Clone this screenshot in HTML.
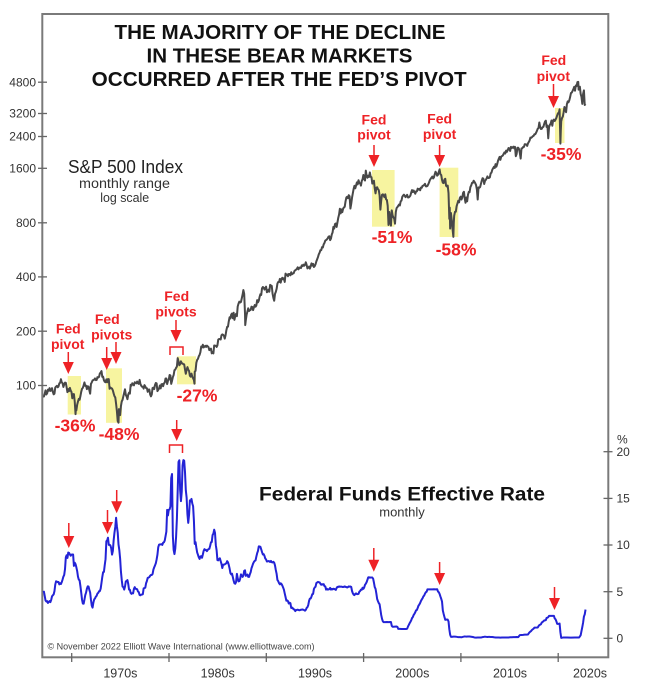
<!DOCTYPE html>
<html><head><meta charset="utf-8">
<style>html,body{margin:0;padding:0;background:#fff}svg{display:block}</style>
</head><body>
<svg width="650" height="693" viewBox="0 0 650 693" xmlns="http://www.w3.org/2000/svg" font-family="'Liberation Sans', Arial, sans-serif">
<rect width="650" height="693" fill="#fff"/>

<!-- yellow highlight boxes -->
<g fill="#f7f4a0">
<rect x="67.7" y="376" width="13.3" height="38.5"/>
<rect x="106" y="368.3" width="16" height="54.5"/>
<rect x="177" y="356.3" width="19" height="28"/>
<rect x="372" y="170" width="22.6" height="56.7"/>
<rect x="439.6" y="167.7" width="18.7" height="69.3"/>
<rect x="555" y="108" width="9.5" height="35"/>
</g>

<!-- frame -->
<rect x="42.3" y="14" width="566" height="643.3" fill="none" stroke="#7a7a7a" stroke-width="2"/>

<!-- left ticks -->
<g stroke="#666" stroke-width="1.3">
<line x1="38" y1="82.2" x2="47" y2="82.2"/>
<line x1="38" y1="113.5" x2="47" y2="113.5"/>
<line x1="38" y1="136.5" x2="47" y2="136.5"/>
<line x1="38" y1="168.3" x2="47" y2="168.3"/>
<line x1="38" y1="222.8" x2="47" y2="222.8"/>
<line x1="38" y1="276.9" x2="47" y2="276.9"/>
<line x1="38" y1="331.2" x2="47" y2="331.2"/>
<line x1="38" y1="385.5" x2="47" y2="385.5"/>
<!-- right ticks -->
<line x1="603.5" y1="451.7" x2="612.5" y2="451.7"/>
<line x1="603.5" y1="498.4" x2="612.5" y2="498.4"/>
<line x1="603.5" y1="545" x2="612.5" y2="545"/>
<line x1="603.5" y1="591.7" x2="612.5" y2="591.7"/>
<line x1="603.5" y1="638.3" x2="612.5" y2="638.3"/>
<!-- bottom ticks -->
<line x1="71.7" y1="653" x2="71.7" y2="662"/>
<line x1="169" y1="653" x2="169" y2="662"/>
<line x1="266.3" y1="653" x2="266.3" y2="662"/>
<line x1="363.6" y1="653" x2="363.6" y2="662"/>
<line x1="460.9" y1="653" x2="460.9" y2="662"/>
<line x1="558.2" y1="653" x2="558.2" y2="662"/>
</g>

<!-- left tick labels -->
<g font-size="12" fill="#333" text-anchor="end">
<text x="36" y="86.4">4800</text>
<text x="36" y="117.7">3200</text>
<text x="36" y="140.7">2400</text>
<text x="36" y="172.5">1600</text>
<text x="36" y="227">800</text>
<text x="36" y="281.1">400</text>
<text x="36" y="335.4">200</text>
<text x="36" y="389.7">100</text>
</g>
<!-- right tick labels -->
<g font-size="12" fill="#333">
<text x="617" y="443.5">%</text>
<text x="616.5" y="456">20</text>
<text x="616.5" y="502.6">15</text>
<text x="616.5" y="549.2">10</text>
<text x="616.5" y="595.9">5</text>
<text x="616.5" y="642.5">0</text>
</g>
<!-- decade labels -->
<g font-size="12.5" fill="#333" text-anchor="middle">
<text x="120.4" y="677.5">1970s</text>
<text x="217.7" y="677.5">1980s</text>
<text x="315" y="677.5">1990s</text>
<text x="412.3" y="677.5">2000s</text>
<text x="510" y="677.5">2010s</text>
<text x="590" y="677.5">2020s</text>
</g>

<!-- title -->
<g font-weight="bold" font-size="20.5" fill="#111" text-anchor="middle">
<text x="280" y="39" textLength="331" lengthAdjust="spacingAndGlyphs">THE MAJORITY OF THE DECLINE</text>
<text x="279.5" y="62.5" textLength="266" lengthAdjust="spacingAndGlyphs">IN THESE BEAR MARKETS</text>
<text x="279.2" y="86" textLength="375" lengthAdjust="spacingAndGlyphs">OCCURRED AFTER THE FED’S PIVOT</text>
</g>

<!-- S&P label -->
<text x="125.5" y="173" font-size="18.5" fill="#222" text-anchor="middle" textLength="115" lengthAdjust="spacingAndGlyphs">S&amp;P 500 Index</text>
<text x="124.5" y="188" font-size="13.5" fill="#333" text-anchor="middle" textLength="91" lengthAdjust="spacingAndGlyphs">monthly range</text>
<text x="124.7" y="202" font-size="13" fill="#333" text-anchor="middle" textLength="49" lengthAdjust="spacingAndGlyphs">log scale</text>

<!-- Fed funds label -->
<text x="402" y="500.5" font-size="19" font-weight="bold" fill="#111" text-anchor="middle" textLength="286" lengthAdjust="spacingAndGlyphs">Federal Funds Effective Rate</text>
<text x="402" y="516.5" font-size="13" fill="#333" text-anchor="middle">monthly</text>

<!-- copyright -->
<text x="47.5" y="649.5" font-size="9" fill="#444" textLength="267" lengthAdjust="spacingAndGlyphs">© November 2022 Elliott Wave International (www.elliottwave.com)</text>

<!-- S&P 500 line -->
<polyline fill="none" stroke="#484848" stroke-width="2" stroke-linejoin="round" vector-effect="non-scaling-stroke" transform="matrix(0.8108 0 0 -180.4 72.3 746.3)" points="-36,1.938 -35,1.939 -34,1.955 -33,1.973 -32,1.950 -31,1.957 -30,1.977 -29,1.971 -28,1.985 -27,1.970 -26,1.973 -25,1.985 -24,1.965 -23,1.951 -22,1.955 -21,1.989 -20,1.994 -19,1.998 -18,1.990 -17,1.995 -16,2.012 -15,2.015 -14,2.035 -13,2.017 -12,2.013 -11,1.992 -10,2.006 -9,2.016 -8,2.015 -7,1.990 -6,1.963 -5,1.980 -4,1.969 -3,1.987 -2,1.972 -1,1.964 0,1.929 1,1.952 2,1.952 3,1.911 4,1.841 4.5,1.884 5,1.862 6,1.893 7,1.911 8,1.926 9,1.921 10,1.941 11,1.965 12,1.982 13,1.987 14,2.001 15,2.017 16,1.998 17,1.999 18,1.980 19,1.996 20,1.993 21,1.974 22,1.955 23,2.009 24,2.017 25,2.028 26,2.030 27,2.032 28,2.039 29,2.030 30,2.031 31,2.046 32,2.044 33,2.048 34,2.067 35,2.072 36,2.080 37,2.048 38,2.049 39,2.029 40,2.021 41,2.018 42,2.034 43,2.018 44,2.035 45,2.035 46,1.982 47,1.989 48,1.985 49,1.983 50,1.973 51,1.956 52,1.941 53,1.934 54,1.899 55,1.858 56,1.803 57,1.794 57.5,1.869 58,1.845 59,1.836 60,1.886 61,1.912 62,1.921 63,1.941 64,1.960 65,1.979 66,1.948 67,1.939 68,1.924 69,1.950 70,1.960 71,1.955 72,2.004 73,1.999 74,2.012 75,2.007 76,2.001 77,2.018 78,2.015 79,2.012 80,2.022 81,2.012 82,2.009 83,2.031 84,2.009 85,1.999 86,1.993 87,1.993 88,1.983 89,2.002 90,1.995 91,1.986 92,1.985 93,1.965 94,1.977 95,1.978 96,1.951 97,1.940 98,1.950 99,1.986 100,1.988 101,1.980 102,2.003 103,2.014 104,2.011 105,1.969 106,1.976 107,1.983 108,2.000 109,1.984 110,2.007 111,2.008 112,1.996 113,2.012 114,2.016 115,2.039 116,2.039 117,2.008 118,2.026 119,2.033 120,2.058 121,2.056 122,2.009 123,2.026 124,2.046 125,2.058 126,2.085 127,2.088 128,2.098 129,2.105 130,2.152 131,2.133 132,2.112 133,2.118 134,2.134 135,2.123 136,2.122 137,2.118 138,2.117 139,2.089 140,2.065 141,2.086 142,2.102 143,2.088 144,2.081 145,2.054 146,2.049 147,2.066 148,2.049 149,2.040 150,2.030 150.7,2.010 151,2.077 152,2.081 153,2.126 154,2.142 155,2.148 156,2.162 157,2.170 158,2.185 159,2.216 160,2.211 161,2.226 162,2.211 163,2.216 164,2.220 165,2.214 166,2.221 167,2.217 168,2.213 169,2.196 170,2.202 171,2.204 172,2.178 173,2.185 174,2.178 175,2.222 176,2.220 177,2.220 178,2.214 179,2.223 180,2.254 181,2.258 182,2.257 183,2.255 184,2.278 185,2.283 186,2.281 187,2.276 188,2.260 189,2.278 190,2.306 191,2.325 192,2.326 193,2.356 194,2.378 195,2.372 196,2.393 197,2.399 198,2.373 199,2.403 200,2.364 201,2.387 202,2.397 203,2.384 204,2.438 205,2.454 206,2.465 207,2.460 208,2.463 209,2.483 210,2.503 211,2.529 212,2.508 213,2.401 213.3,2.335 214,2.362 215,2.393 216,2.410 217,2.428 218,2.413 219,2.417 220,2.419 221,2.437 222,2.435 223,2.418 224,2.434 225,2.446 226,2.437 227,2.444 228,2.473 229,2.461 230,2.470 231,2.491 232,2.506 233,2.502 234,2.539 235,2.546 236,2.543 237,2.532 238,2.539 239,2.548 240,2.517 241,2.521 242,2.531 243,2.520 244,2.558 245,2.554 246,2.552 247,2.509 248,2.486 249,2.470 250,2.508 251,2.519 252,2.536 253,2.565 254,2.574 255,2.574 256,2.591 257,2.570 258,2.589 259,2.597 260,2.589 261,2.594 262,2.574 263,2.620 264,2.611 265,2.616 266,2.606 267,2.618 268,2.618 269,2.611 270,2.628 271,2.617 272,2.621 273,2.622 274,2.635 275,2.639 276,2.642 277,2.647 278,2.655 279,2.644 280,2.653 281,2.654 282,2.651 283,2.666 284,2.662 285,2.670 286,2.664 287,2.669 288,2.683 289,2.669 290,2.649 291,2.654 292,2.659 293,2.648 294,2.661 295,2.677 296,2.665 297,2.674 298,2.657 299,2.662 300,2.672 301,2.688 302,2.700 303,2.712 304,2.727 305,2.736 306,2.750 307,2.750 308,2.767 309,2.765 310,2.782 311,2.790 312,2.803 313,2.806 314,2.810 315,2.816 316,2.825 317,2.827 318,2.806 319,2.814 320,2.837 321,2.848 322,2.879 323,2.870 324,2.895 325,2.898 326,2.879 327,2.904 328,2.929 329,2.947 330,2.980 331,2.954 332,2.976 333,2.961 334,2.980 335,2.987 336,2.991 337,3.021 338,3.042 339,3.046 340,3.038 341,3.055 342,3.049 343,2.981 344,3.007 345,3.041 346,3.066 347,3.090 348,3.107 349,3.093 350,3.109 351,3.126 352,3.115 353,3.138 354,3.123 355,3.121 356,3.108 357,3.134 358,3.143 359,3.167 360,3.144 361,3.136 362,3.191 363,3.162 364,3.152 365,3.163 366,3.156 367,3.181 368,3.157 369,3.155 370,3.119 371,3.121 372,3.135 373,3.093 374,3.065 375,3.097 376,3.099 377,3.088 378,3.083 379,3.054 380,2.975 381,3.025 382,3.057 383,3.060 384,3.053 385,3.044 386,3.060 387,3.032 388,3.028 389,2.996 390,2.890 391,2.962 392,2.911 393,2.886 394,2.971 395,2.944 396,2.932 397,2.925 398,2.897 399,2.962 400,2.984 401,2.989 402,2.996 403,3.003 404,2.998 405,3.021 406,3.025 407,3.046 408,3.053 409,3.058 410,3.052 411,3.044 412,3.050 413,3.057 414,3.042 415,3.043 416,3.047 417,3.053 418,3.070 419,3.083 420,3.072 421,3.081 422,3.072 423,3.063 424,3.076 425,3.076 426,3.091 427,3.086 428,3.090 429,3.082 430,3.097 431,3.096 432,3.107 433,3.108 434,3.112 435,3.118 436,3.104 437,3.104 438,3.106 439,3.115 440,3.126 441,3.139 442,3.146 443,3.152 444,3.158 445,3.148 446,3.153 447,3.171 448,3.185 449,3.177 450,3.163 451,3.168 452,3.184 453,3.198 454,3.171 455,3.167 456,3.140 457,3.124 458,3.122 459,3.142 460,3.146 461,3.107 462,3.103 463,3.108 464,3.067 465,2.924 465.5,2.986 466,2.870 467,2.956 468,2.917 469,2.866 470,2.824 470.5,2.902 471,2.941 472,2.963 473,2.963 474,2.994 475,3.009 476,3.024 477,3.015 478,3.040 479,3.047 480,3.031 481,3.043 482,3.068 483,3.074 484,3.037 485,3.013 486,3.042 487,3.021 488,3.057 489,3.073 490,3.072 491,3.100 492,3.109 493,3.123 494,3.123 495,3.135 496,3.129 497,3.121 498,3.111 499,3.086 500,3.031 501,3.098 502,3.096 503,3.100 504,3.118 505,3.135 506,3.149 507,3.146 508,3.117 509,3.134 510,3.140 511,3.148 512,3.159 513,3.150 514,3.151 515,3.154 516,3.176 517,3.180 518,3.196 519,3.204 520,3.212 521,3.206 522,3.227 523,3.213 524,3.226 525,3.245 526,3.257 527,3.267 528,3.251 529,3.269 530,3.272 531,3.275 532,3.284 533,3.292 534,3.286 535,3.302 536,3.295 537,3.305 538,3.316 539,3.314 540,3.300 541,3.323 542,3.316 543,3.319 544,3.324 545,3.315 546,3.323 547,3.271 548,3.283 549,3.318 550,3.318 551,3.310 552,3.288 553,3.258 554,3.314 555,3.315 556,3.322 557,3.322 558,3.337 559,3.337 560,3.336 561,3.328 562,3.342 563,3.350 564,3.358 565,3.374 566,3.373 567,3.377 568,3.382 569,3.384 570,3.393 571,3.393 572,3.401 573,3.411 574,3.423 575,3.427 576,3.458 577,3.434 578,3.422 579,3.423 580,3.432 581,3.434 582,3.450 583,3.463 584,3.468 585,3.433 586,3.441 587,3.370 588,3.432 589,3.445 590,3.452 591,3.469 592,3.440 593,3.469 594,3.474 595,3.466 596,3.474 597,3.483 598,3.497 599,3.509 600,3.509 601,3.531 602,3.341 602.5,3.412 603,3.464 604,3.483 605,3.491 606,3.515 607,3.544 608,3.527 609,3.515 610,3.559 611,3.575 612,3.570 613,3.581 614,3.599 615,3.621 616,3.624 617,3.633 618,3.643 619,3.655 620,3.634 621,3.663 622,3.660 623,3.682 624,3.683 624.5,3.640 625,3.641 626,3.656 627,3.616 628,3.600 629,3.561 630,3.616 631,3.636 632,3.555 633,3.560"/>

<!-- Fed funds line -->
<polyline fill="none" stroke="#2323d6" stroke-width="2" stroke-linejoin="round" vector-effect="non-scaling-stroke" transform="matrix(0.8108 0 0 -9.33 72.3 638.3)" points="-36,4.94 -35,5.00 -34,4.53 -33,4.05 -32,3.94 -31,3.98 -30,3.79 -29,3.90 -28,3.99 -27,3.88 -26,4.13 -25,4.51 -24,4.61 -23,4.71 -22,5.05 -21,5.76 -20,6.11 -19,6.07 -18,6.02 -17,6.03 -16,5.78 -15,5.91 -14,5.82 -13,6.02 -12,6.30 -11,6.61 -10,6.79 -9,7.41 -8,8.67 -7,8.90 -6,8.61 -5,9.19 -4,9.15 -3,9.00 -2,8.85 -1,8.97 0,8.98 1,8.98 2,7.76 3,8.10 4,7.95 5,7.61 6,7.21 7,6.61 8,6.29 9,6.20 10,5.60 11,4.90 12,4.14 13,3.72 14,3.71 15,4.15 16,4.63 17,4.91 18,5.31 19,5.56 20,5.55 21,5.20 22,4.91 23,4.14 24,3.50 25,3.29 26,3.83 27,4.17 28,4.27 29,4.46 30,4.55 31,4.80 32,4.87 33,5.04 34,5.06 35,5.33 36,5.94 37,6.58 38,7.09 39,7.12 40,7.84 41,8.49 42,10.40 43,10.50 44,10.78 45,10.01 46,10.03 47,9.95 48,9.65 49,8.97 50,9.35 51,10.51 52,11.31 53,11.93 54,12.92 55,12.01 56,11.34 57,10.06 58,9.45 59,8.53 60,7.13 61,6.24 62,5.54 63,5.49 64,5.22 65,5.55 66,6.10 67,6.14 68,6.24 69,5.82 70,5.22 71,5.20 72,4.87 73,4.77 74,4.84 75,4.82 76,5.29 77,5.48 78,5.31 79,5.29 80,5.25 81,5.02 82,4.95 83,4.65 84,4.61 85,4.68 86,4.69 87,4.73 88,5.35 89,5.39 90,5.42 91,5.90 92,6.14 93,6.47 94,6.51 95,6.56 96,6.70 97,6.78 98,6.79 99,6.89 100,7.36 101,7.60 102,7.81 103,8.04 104,8.45 105,8.96 106,9.76 107,10.03 108,10.07 109,10.06 110,10.09 111,10.01 112,10.24 113,10.29 114,10.47 115,10.94 116,11.43 117,13.77 118,13.18 119,13.78 120,13.82 121,14.13 122,17.19 123,17.61 124,10.98 125,9.47 126,9.03 127,9.61 128,10.87 129,12.81 130,15.85 131,18.90 132,19.08 133,15.93 134,14.70 135,15.72 136,18.52 137,19.10 138,19.04 139,17.82 140,15.87 141,15.08 142,13.31 143,12.37 144,13.22 145,14.78 146,14.68 147,14.94 148,14.45 149,14.15 150,12.59 151,10.12 152,10.31 153,9.71 154,9.20 155,8.95 156,8.68 157,8.51 158,8.77 159,8.80 160,8.63 161,8.98 162,9.37 163,9.56 164,9.45 165,9.48 166,9.34 167,9.47 168,9.56 169,9.59 170,9.91 171,10.29 172,10.32 173,11.06 174,11.23 175,11.64 176,11.30 177,9.99 178,9.43 179,8.38 180,8.35 181,8.50 182,8.58 183,8.27 184,7.97 185,7.53 186,7.88 187,7.90 188,7.92 189,7.99 190,8.05 191,8.27 192,8.14 193,7.86 194,7.48 195,6.99 196,6.85 197,6.92 198,6.56 199,6.17 200,5.89 201,5.85 202,6.04 203,6.91 204,6.43 205,6.10 206,6.13 207,6.37 208,6.85 209,6.73 210,6.58 211,6.73 212,7.22 213,7.29 214,6.69 215,6.77 216,6.83 217,6.58 218,6.58 219,6.87 220,7.09 221,7.51 222,7.75 223,8.01 224,8.19 225,8.30 226,8.35 227,8.76 228,9.12 229,9.36 230,9.85 231,9.84 232,9.81 233,9.53 234,9.24 235,8.99 236,9.02 237,8.84 238,8.55 239,8.45 240,8.23 241,8.24 242,8.28 243,8.26 244,8.18 245,8.29 246,8.15 247,8.13 248,8.20 249,8.11 250,7.81 251,7.31 252,6.91 253,6.25 254,6.12 255,5.91 256,5.78 257,5.90 258,5.82 259,5.66 260,5.45 261,5.21 262,4.81 263,4.43 264,4.03 265,4.06 266,3.98 267,3.73 268,3.82 269,3.76 270,3.25 271,3.30 272,3.22 273,3.10 274,3.09 275,2.92 276,3.02 278,3.07 280,3.00 282,3.06 284,3.09 286,3.02 287,2.96 288,3.05 289,3.25 290,3.34 291,3.56 292,4.01 293,4.25 294,4.26 295,4.47 296,4.73 297,4.76 298,5.29 299,5.45 300,5.53 301,5.92 302,5.98 303,6.05 304,6.01 305,6.00 306,5.85 307,5.74 308,5.80 309,5.76 310,5.80 311,5.60 312,5.56 313,5.22 314,5.31 315,5.22 316,5.24 317,5.27 318,5.40 319,5.22 320,5.30 321,5.24 322,5.31 323,5.29 324,5.25 325,5.19 326,5.39 327,5.51 328,5.50 329,5.56 330,5.52 331,5.54 332,5.54 333,5.50 334,5.52 335,5.50 336,5.56 337,5.51 338,5.49 339,5.45 340,5.49 341,5.56 342,5.54 343,5.55 344,5.51 345,5.07 346,4.83 347,4.68 348,4.63 349,4.76 350,4.81 351,4.74 352,4.74 353,4.76 354,4.99 355,5.07 356,5.22 357,5.20 358,5.42 359,5.30 360,5.45 361,5.73 362,5.85 363,6.02 364,6.27 365,6.53 366,6.54 367,6.50 368,6.52 369,6.51 370,6.51 371,6.40 372,5.98 373,5.49 374,5.31 375,4.80 376,4.21 377,3.97 378,3.77 379,3.65 380,3.07 381,2.49 382,2.09 383,1.82 384,1.73 386,1.73 388,1.75 390,1.73 392,1.75 393,1.75 394,1.34 395,1.24 396,1.24 398,1.25 400,1.26 401,1.22 402,1.01 404,1.01 406,1.00 408,1.00 410,1.00 412,1.00 413,1.03 414,1.26 415,1.43 416,1.61 417,1.76 418,1.93 419,2.16 420,2.28 421,2.50 422,2.63 423,2.79 424,3.00 425,3.04 426,3.26 427,3.50 428,3.62 429,3.78 430,4.00 431,4.16 432,4.29 433,4.49 434,4.59 435,4.79 436,4.94 437,4.99 438,5.24 440,5.25 442,5.25 444,5.25 446,5.26 448,5.25 450,5.26 451,5.02 452,4.94 453,4.76 454,4.49 455,4.24 456,3.94 457,2.98 458,2.61 459,2.28 460,1.98 461,2.00 462,2.01 463,2.00 464,1.81 465,0.97 466,0.39 467,0.16 468,0.15 470,0.18 472,0.18 474,0.16 476,0.12 478,0.12 480,0.11 482,0.16 484,0.20 486,0.18 488,0.19 490,0.19 492,0.17 494,0.14 496,0.09 498,0.07 500,0.08 502,0.08 504,0.08 506,0.13 508,0.16 510,0.16 512,0.14 514,0.16 516,0.14 518,0.14 520,0.11 522,0.09 524,0.08 526,0.09 528,0.07 530,0.08 532,0.09 534,0.09 536,0.09 538,0.09 540,0.11 542,0.11 544,0.12 546,0.13 548,0.14 550,0.12 551,0.24 552,0.34 554,0.36 556,0.37 558,0.39 560,0.40 562,0.41 563,0.54 564,0.65 566,0.79 567,0.90 569,1.04 570,1.15 574,1.16 575,1.30 576,1.41 578,1.51 579,1.69 581,1.82 582,1.91 584,1.95 585,2.19 586,2.20 587,2.27 588,2.40 594,2.40 595,2.13 596,2.04 597,1.83 598,1.55 600,1.55 601,1.58 602,0.65 603,0.05 605,0.08 610,0.09 615,0.07 620,0.08 625,0.08 626,0.20 627,0.33 628,0.77 629,1.21 630,1.68 631,2.33 632,2.56 633,3.08"/>

<!-- red arrows -->
<g stroke="#ee2226" stroke-width="1.5" fill="none">
<line x1="68.3" y1="352" x2="68.3" y2="363"/>
<line x1="106.7" y1="347" x2="106.7" y2="359"/>
<line x1="116" y1="342" x2="116" y2="353"/>
<line x1="176" y1="320" x2="176" y2="331"/>
<path d="M170,355 V347 H183 V355"/>
<line x1="374" y1="145" x2="374" y2="156"/>
<line x1="439.6" y1="145" x2="439.6" y2="156"/>
<line x1="553.5" y1="84" x2="553.5" y2="96"/>
<line x1="68.8" y1="523" x2="68.8" y2="537"/>
<line x1="107.5" y1="510" x2="107.5" y2="523"/>
<line x1="116.7" y1="490" x2="116.7" y2="502"/>
<line x1="176.7" y1="420" x2="176.7" y2="430"/>
<path d="M169.5,453 V445 H182.5 V453"/>
<line x1="373.8" y1="548" x2="373.8" y2="560"/>
<line x1="439.6" y1="562" x2="439.6" y2="573"/>
<line x1="554.5" y1="587" x2="554.5" y2="598"/>
</g>
<g fill="#ee2226">
<polygon points="62.8,362 73.8,362 68.3,374"/>
<polygon points="101.2,358 112.2,358 106.7,370"/>
<polygon points="110.5,352 121.5,352 116,364"/>
<polygon points="170.5,330 181.5,330 176,342"/>
<polygon points="368.5,155 379.5,155 374,167"/>
<polygon points="434.1,155 445.1,155 439.6,167"/>
<polygon points="548,96 559,96 553.5,108"/>
<polygon points="63.3,536 74.3,536 68.8,548"/>
<polygon points="102,522 113,522 107.5,534"/>
<polygon points="111.2,501.3 122.2,501.3 116.7,513.3"/>
<polygon points="171.2,429 182.2,429 176.7,441"/>
<polygon points="368.3,559.7 379.3,559.7 373.8,571.7"/>
<polygon points="434.1,573 445.1,573 439.6,585"/>
<polygon points="549,598 560,598 554.5,610"/>
</g>

<!-- red labels -->
<g fill="#ee2226" font-weight="bold" font-size="14" text-anchor="middle">
<text x="68.3" y="333.5">Fed</text>
<text x="67.7" y="349">pivot</text>
<text x="107.3" y="324">Fed</text>
<text x="111.7" y="339.5">pivots</text>
<text x="176.7" y="301">Fed</text>
<text x="176" y="316.7">pivots</text>
<text x="374" y="124.5">Fed</text>
<text x="374" y="139.5">pivot</text>
<text x="439.6" y="123.5">Fed</text>
<text x="439.6" y="139">pivot</text>
<text x="553.8" y="65">Fed</text>
<text x="553.3" y="81">pivot</text>
</g>
<g fill="#ee2226" font-weight="bold" font-size="17.5" text-anchor="middle">
<text x="75" y="431.5">-36%</text>
<text x="119" y="440">-48%</text>
<text x="197" y="401.5">-27%</text>
<text x="392" y="243">-51%</text>
<text x="456" y="255.5">-58%</text>
<text x="561" y="160">-35%</text>
</g>
</svg>
</body></html>
